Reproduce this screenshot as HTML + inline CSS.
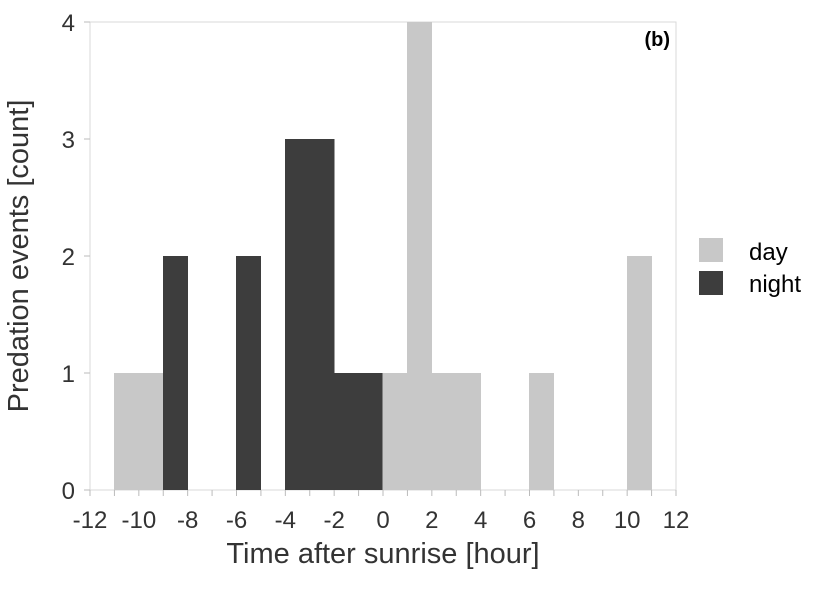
<!DOCTYPE html>
<html><head><meta charset="utf-8"><style>
body{margin:0;background:#fff;width:826px;height:590px;overflow:hidden}
text{font-family:"Liberation Sans",sans-serif}
</style></head><body>
<svg id="chart" width="826" height="590" xmlns="http://www.w3.org/2000/svg"></svg>
<script>
const binStarts=[-12,-11,-10,-9,-8,-7,-6,-5,-4,-3,-2,-1,0,1,2,3,4,5,6,7,8,9,10,11];
const dayCounts=[0,1,1,0,0,0,0,0,0,0,0,0,1,4,1,1,0,0,1,0,0,0,2,0];
const nightCounts=[0,0,0,2,0,0,2,0,3,3,1,1,0,0,0,0,0,0,0,0,0,0,0,0];
const xTicks=[-12,-10,-8,-6,-4,-2,0,2,4,6,8,10,12];
const yTicks=[0,1,2,3,4];
const NS="http://www.w3.org/2000/svg";
const svg=document.getElementById('chart');
const L=90,R=676,T=22,B=490;
const x=v=>L+(v+12)/24*(R-L);
const y=v=>B-v/4*(B-T);
function mk(tag,a,txt){const e=document.createElementNS(NS,tag);for(const k in a)e.setAttribute(k,a[k]);if(txt!==undefined)e.textContent=txt;svg.appendChild(e);return e;}
let e=mk('rect',{x:L,y:T,width:R-L,height:B-T,fill:'none',stroke:'#d9d9d9'});


binStarts.forEach((b,i)=>{
  if(dayCounts[i]>0){const r=mk('rect',{x:x(b)-0.3,y:y(dayCounts[i]),width:x(b+1)-x(b)+0.6,height:B-y(dayCounts[i]),fill:'#c8c8c8','shape-rendering':'crispEdges'});
  
  }
  if(nightCounts[i]>0){const r=mk('rect',{x:x(b)-0.3,y:y(nightCounts[i]),width:x(b+1)-x(b)+0.6,height:B-y(nightCounts[i]),fill:'#3d3d3d','shape-rendering':'crispEdges'});
  
  }
});
for(let h=-12;h<=12;h++){const t=mk('line',{x1:x(h),x2:x(h),y1:B,y2:B+6,stroke:'#bbb'});

}
xTicks.forEach(v=>{const t=mk('text',{x:x(v),y:528,'font-size':24,'text-anchor':'middle',fill:'#333'},String(v));

});
yTicks.forEach(v=>{const l=mk('line',{x1:L-6,x2:L,y1:y(v),y2:y(v),stroke:'#bbb'});


const t=mk('text',{x:L-15,y:y(v)+9,'font-size':24,'text-anchor':'end',fill:'#333'},String(v));

});
e=mk('text',{x:383,y:563,'font-size':29,'text-anchor':'middle',fill:'#333'},'Time after sunrise [hour]');


e=mk('text',{x:0,y:0,'font-size':29,'text-anchor':'middle',fill:'#333',transform:'translate(28,256) rotate(-90)'},'Predation events [count]');


e=mk('text',{x:670,y:46,'font-size':20,'font-weight':'bold','text-anchor':'end',fill:'#000'},'(b)');


e=mk('rect',{x:699,y:238,width:24,height:24,fill:'#c8c8c8'});


e=mk('text',{x:749,y:260,'font-size':24,fill:'#000'},'day');


e=mk('rect',{x:699,y:271,width:24,height:24,fill:'#3d3d3d'});


e=mk('text',{x:749,y:292,'font-size':24,fill:'#000'},'night');


</script>
</body></html>
